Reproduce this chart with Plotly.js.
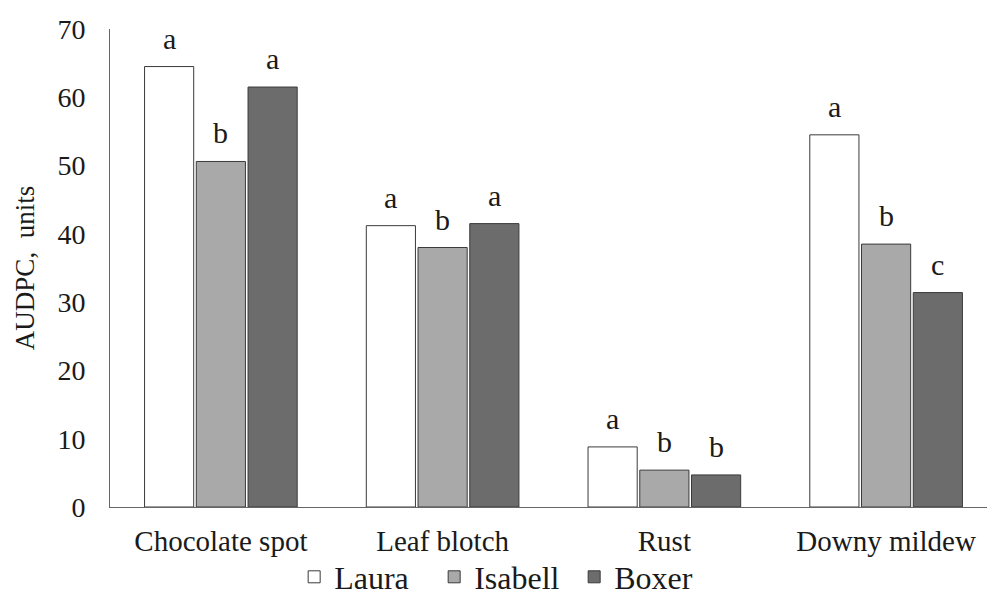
<!DOCTYPE html>
<html>
<head>
<meta charset="utf-8">
<script src="https://cdn.plot.ly/plotly-3.0.1.min.js"></script>
<style>html,body{margin:0;padding:0;background:#fff;}#chart{width:987px;height:601px;}</style>
</head>
<body>
<div id="chart"></div>
<script>
const categories = ['Chocolate spot', 'Leaf blotch', 'Rust', 'Downy mildew'];
const seriesNames = ['Laura', 'Isabell', 'Boxer'];
const laura = [64.5, 41.2, 8.8, 54.5];
const isabell = [50.6, 38.0, 5.4, 38.5];
const boxer = [61.5, 41.5, 4.7, 31.4];
const lauraLetters = ['a', 'a', 'a', 'a'];
const isabellLetters = ['b', 'b', 'b', 'b'];
const boxerLetters = ['a', 'a', 'b', 'c'];
const yTicks = [0, 10, 20, 30, 40, 50, 60, 70];

const values = [laura, isabell, boxer];
const letters = [lauraLetters, isabellLetters, boxerLetters];
const colors = ['#ffffff', '#a9a9a9', '#6c6c6c'];
const serif = 'Liberation Serif';
const bargap = 0.3, bargroupgap = 0.05;

const traces = values.map((v, i) => ({
  type: 'bar', name: seriesNames[i], x: categories, y: v,
  marker: {color: colors[i], line: {color: '#3a3a3a', width: 1}},
  hoverinfo: 'x+y+name'
}));

const slot = (1 - bargap) / 3;
const annotations = [];
values.forEach((v, i) => {
  v.forEach((val, j) => {
    annotations.push({
      x: j - (1 - bargap) / 2 + slot * (i + 0.5), y: val, xref: 'x', yref: 'y',
      text: letters[i][j], showarrow: false, yanchor: 'bottom', yshift: 10,
      font: {family: serif, size: 30, color: '#1a1a1a'}
    });
  });
});

const layout = {
  width: 987, height: 601,
  margin: {l: 110, r: 0, t: 29, b: 94, autoexpand: false},
  paper_bgcolor: '#ffffff', plot_bgcolor: '#ffffff',
  barmode: 'group', bargap: bargap, bargroupgap: bargroupgap,
  font: {family: serif, color: '#1a1a1a'},
  xaxis: {
    type: 'category', range: [-0.5, 3.455], showgrid: false, zeroline: false,
    showline: true, linecolor: '#666', linewidth: 1, ticks: '',
    tickfont: {family: serif, size: 29, color: '#1a1a1a'}, ticklabelstandoff: 8,
    automargin: false
  },
  yaxis: {
    range: [0, 70], tickvals: yTicks, ticktext: yTicks.map(String), showgrid: false, zeroline: false,
    showline: true, linecolor: '#666', linewidth: 1, ticks: '',
    tickfont: {family: serif, size: 28, color: '#1a1a1a'}, ticklabelstandoff: 18,
    title: {text: 'AUDPC,  units', font: {family: serif, size: 27, color: '#1a1a1a'}, standoff: 14},
    automargin: false
  },
  showlegend: true,
  legend: {
    orientation: 'h', x: 0.21, xanchor: 'left', y: -0.204, yanchor: 'bottom',
    font: {family: serif, size: 32, color: '#1a1a1a'}, bgcolor: 'rgba(0,0,0,0)',
    traceorder: 'normal', entrywidth: 95, entrywidthmode: 'pixels'
  },
  annotations: annotations
};

Plotly.newPlot('chart', traces, layout, {displayModeBar: false, staticPlot: true});
</script>
</body>
</html>
